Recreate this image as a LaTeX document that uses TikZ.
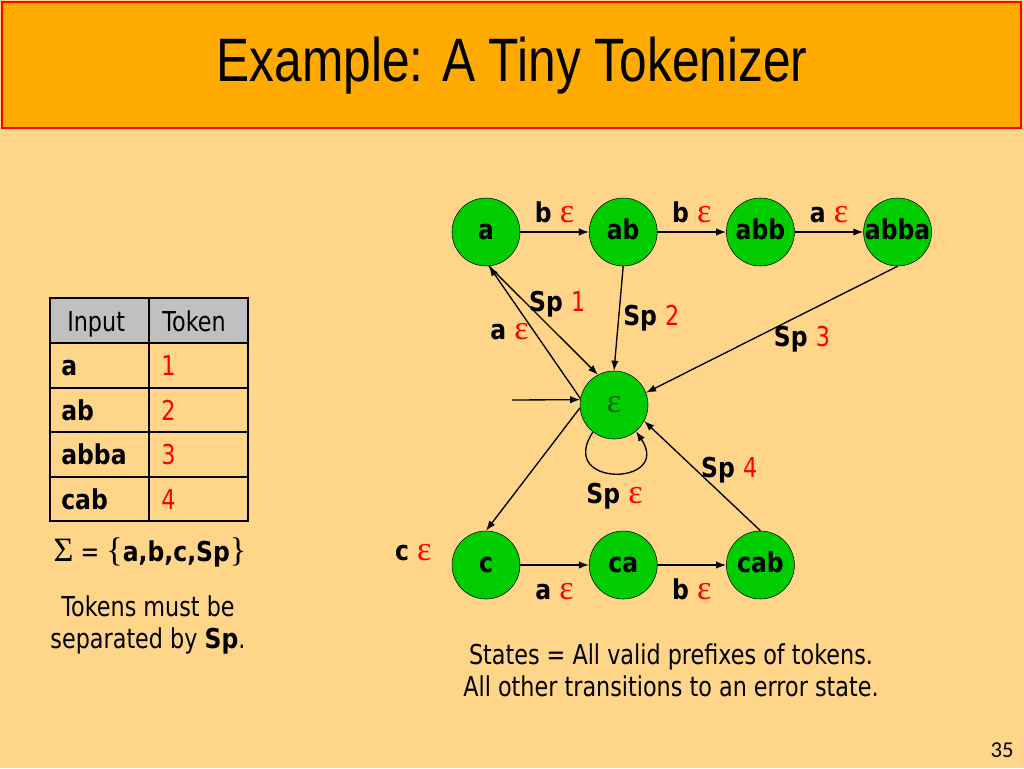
\documentclass[tikz,border=0pt]{standalone}
\usepackage{fontspec}
\setmainfont{DejaVu Sans}[FakeStretch=0.816,BoldFeatures={FakeStretch=0.86}]
\newfontfamily\titlefont{Liberation Sans}[FakeStretch=0.81]
\newfontfamily\symfont{Liberation Serif}[Scale=1.25]
\newfontfamily\numfont{Carlito}
\usetikzlibrary{positioning,arrows.meta}

\definecolor{bgorange}{RGB}{255,213,138}
\definecolor{titleorange}{RGB}{255,170,0}
\definecolor{nodegreen}{RGB}{0,204,0}
\definecolor{epsgreen}{RGB}{0,100,0}
\definecolor{headgray}{RGB}{192,192,192}

\newcommand{\slidefont}{\fontsize{20.5}{24}\selectfont}
\newcommand{\eps}{\textcolor{red}{\symfont\mdseries ε}}
\newcommand{\tok}[1]{\textcolor{red}{\mdseries #1}}

\begin{document}
\begin{tikzpicture}[x=0.75pt,y=-0.75pt,
  node distance=51.5pt,
  state/.style={circle,draw,fill=nodegreen,minimum size=51pt,inner sep=0pt,
    text height=11.2pt,text depth=0pt,font=\slidefont\bfseries},
  lbl/.style={font=\slidefont\bfseries,inner sep=3pt,text height=15pt,text depth=4pt},
  txt/.style={font=\slidefont,align=center},
  cell/.style={anchor=west,inner sep=0pt,text height=15pt,text depth=0pt,font=\slidefont},
  trans/.style={->,>={Latex[length=7.5pt,width=5.5pt]},line width=1pt}
  ]

  % slide background and title
  \fill[bgorange] (0,0) rectangle (1024,768);
  \draw[red,line width=2.2pt,fill=titleorange] (2,2) rectangle (1021,128);
  \node[font=\titlefont\fontsize{46}{50}\selectfont] (title) at (512,66) {Example: A Tiny Tokenizer};

  % states
  \node[state] (a) at (486,232) {a};
  \node[state,right=of a] (ab) {ab};
  \node[state,right=of ab] (abb) {abb};
  \node[state,right=of abb] (abba) {abba};
  \node[state,text height=11pt,font=\slidefont\symfont\color{epsgreen}] (eps) at (614,405) {ε};
  \node[state] (c) at (486,565) {c};
  \node[state,right=of c] (ca) {ca};
  \node[state,right=of ca] (cab) {cab};

  % transitions
  \draw[trans] (a) -- node[lbl,above=0pt] {b \eps} (ab);
  \draw[trans] (ab) -- node[lbl,above=0pt] {b \eps} (abb);
  \draw[trans] (abb) -- node[lbl,above=0pt] {a \eps} (abba);
  \draw[trans] (c) -- node[lbl,below=7pt] {a \eps} (ca);
  \draw[trans] (ca) -- node[lbl,below=7pt] {b \eps} (cab);
  \draw[trans] (a.-85) -- node[lbl,pos=0.35,right=-2pt] {Sp \tok{1}} (eps.118);
  \draw[trans] (eps.169) -- node[lbl,left=1pt] {a \eps} (a.-85);
  \draw[trans] (eps.185) -- (c.north);
  \node[lbl,left=12pt of c,yshift=9pt] (lc) {c \eps};
  \draw[trans] (ab.south) -- node[lbl,right] {Sp \tok{2}} (eps.north);
  \draw[trans] (abba.south) -- node[lbl,pos=0.38,below=6pt] {Sp \tok{3}} (eps.21);
  \draw[trans] (cab.north) -- node[lbl,pos=0.55,right] {Sp \tok{4}} (eps.-28);
  \draw[trans] (eps.232) .. controls +(-37,56) and +(37,55) .. node[lbl,below=4pt] {Sp \eps} (eps.310);
  \coordinate (start) at (512,400);
  \draw[trans] (start) -- (eps.171);

  % token table
  \fill[headgray] (50,298) rectangle (248,343);
  \foreach \y in {343,388,432,477}
    \draw[line width=1.2pt] (50,\y) -- (248,\y);
  \draw[line width=1.2pt] (149,298) -- (149,521);
  \draw[line width=2.2pt] (50,298) rectangle (248,521);
  \node[cell] (hin) at (67,321) {Input};
  \node[cell] (htok) at (162,321) {Token};
  \foreach \inp/\tk [count=\i] in {a/1,ab/2,abba/3,cab/4} {
    \node[cell,font=\slidefont\bfseries] (in\i) at (61,321+\i*44.5) {\inp};
    \node[cell,text=red] (tok\i) at (161,321+\i*44.5) {\tk};
  }

  % notes
  \node[txt] (sigma) at (150,552) {{\symfont Σ} = {\symfont\{}\textbf{a,b,c,Sp}{\symfont\}}};
  \node[txt] (note) at (148,625) {Tokens must be\\separated by \textbf{Sp}.};
  \node[txt] (states) at (671,670) {States = All valid prefixes of tokens.\\All other transitions to an error state.};
  \node[font=\numfont\fontsize{17}{20}\selectfont] (pg) at (1002,750) {35};

\end{tikzpicture}
\end{document}
